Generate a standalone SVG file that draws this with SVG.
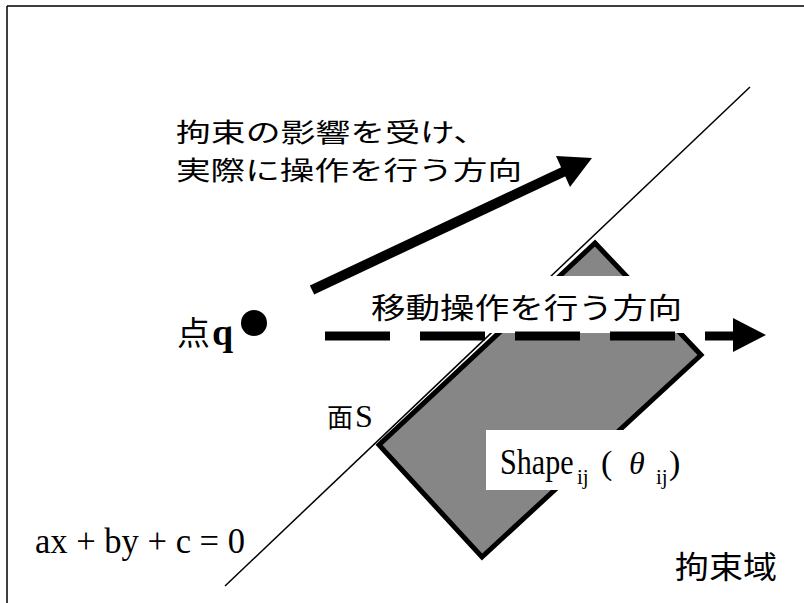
<svg xmlns="http://www.w3.org/2000/svg" width="804" height="603" viewBox="0 0 804 603">
<style>
.jp{font-family:"Noto Sans CJK JP","Noto Sans CJK SC",sans-serif;fill:#000}
.lt{font-family:"Liberation Serif","Times New Roman",serif;fill:#000}
.frame{stroke:#000;stroke-width:1.5;fill:none}
.thin{stroke:#000;stroke-width:1.5;fill:none}
</style>
<rect x="0" y="0" width="804" height="603" fill="#fff"/>
<g id="frame">
<path class="frame" d="M7,6 H804 M7,6 V603"/>
</g>
<g id="constraint-line">
<line class="thin" x1="225" y1="586" x2="750" y2="87"/>
</g>
<g id="shape">
<polygon points="595,243 701,355 482,557 379,445" fill="#868686" stroke="#000" stroke-width="5" stroke-linejoin="miter"/>
</g>
<g id="label-move">
<rect x="362" y="276" width="338" height="57" fill="#fff"/>
<text class="jp" x="371" y="319" font-size="29" textLength="311" lengthAdjust="spacingAndGlyphs">移動操作を行う方向</text>
</g>
<g id="label-shape">
<rect x="486" y="430" width="204" height="60" fill="#fff"/>
<text class="lt" transform="translate(500,474) scale(0.86,1)" x="0" y="0" font-size="35">Shape</text>
<text class="lt" x="577" y="484" font-size="21">ij</text>
<text class="lt" x="601" y="474" font-size="34">(</text>
<text class="lt" x="629" y="474" font-size="32" font-style="italic">θ</text>
<text class="lt" x="656" y="484" font-size="21">ij</text>
<text class="lt" x="669" y="474" font-size="34">)</text>
</g>
<g id="label-actual">
<text class="jp" font-size="26"><tspan x="176" y="142" textLength="312" lengthAdjust="spacingAndGlyphs">拘束の影響を受け、</tspan><tspan x="176" y="180" textLength="346" lengthAdjust="spacingAndGlyphs">実際に操作を行う方向</tspan></text>
</g>
<g id="point-q">
<text x="177" y="345"><tspan class="jp" font-size="33">点</tspan><tspan class="lt" x="212" font-size="38" font-weight="bold">q</tspan></text>
<circle cx="254" cy="323" r="13" fill="#000"/>
</g>
<g id="label-face">
<text x="327" y="427"><tspan class="jp" font-size="26">面</tspan><tspan class="lt" x="355" font-size="32">S</tspan></text>
</g>
<g id="label-equation">
<text class="lt" x="35" y="553" font-size="36" textLength="210" lengthAdjust="spacingAndGlyphs">ax + by + c = 0</text>
</g>
<g id="label-domain">
<text class="jp" x="675" y="578" font-size="31" textLength="102" lengthAdjust="spacingAndGlyphs">拘束域</text>
</g>
<g id="connectors">
<line x1="325" y1="336" x2="735" y2="336" stroke="#000" stroke-width="9" stroke-dasharray="65 30"/>
<polygon points="733,318 766,335 733,352" fill="#000"/>
<line x1="312" y1="290" x2="565" y2="171" stroke="#000" stroke-width="10"/>
<polygon points="592,158 570,187 556,156" fill="#000"/>
</g>
</svg>
